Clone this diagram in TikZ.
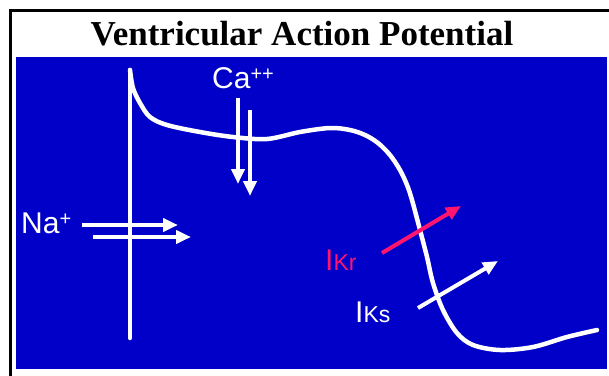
\documentclass[tikz,border=0pt]{standalone}
\usepackage{fontspec}
\setmainfont{Liberation Serif}
\newfontfamily\lblfont{Liberation Sans}
\usetikzlibrary{arrows.meta}
\definecolor{bgblue}{RGB}{0,0,200}
\definecolor{krpink}{RGB}{255,20,110}
\tikzset{
  lbl/.style={inner sep=0pt, anchor=base west, text=white, font=\lblfont\fontsize{30}{30}\selectfont},
  ionarrow/.style={line width=4pt, white, -{Triangle[length=15pt,width=13pt]}},
  apcurve/.style={line width=4.5pt, white, line cap=round, line join=round}
}
\begin{document}
\begin{tikzpicture}[x=1pt,y=-1pt]
\useasboundingbox (0,0) rectangle (609,375);
\clip (0,0) rectangle (609,375);
\fill[white] (0,0) rectangle (609,375);
\draw[line width=2.6pt, black] (10.5,10.5) rectangle (650,420);
\fill[bgblue] (16,57) rectangle (607,369);
\node[inner sep=0pt, anchor=base, font=\bfseries\fontsize{35}{40}\selectfont] (title) at (302,45) {Ventricular Action Potential};
% action potential curve
\draw[apcurve] (130,338) -- (130,70);
\draw[apcurve] plot[smooth, tension=0.55] coordinates {
 (130,70) (133,88) (140,103) (150,117) (167,125) (200,132) (233,137) (267,139)
 (300,132) (330,128) (350,130) (365,135) (378,143) (390,155) (400,170) (407,185)
 (412,200) (420,230) (427,257) (433,283) (443,310) (457,333) (473,345) (500,350)
 (533,347) (567,337) (597,330)};
% labels
\node[lbl] (ca) at (212,88) {Ca\raisebox{8pt}{\fontsize{20}{20}\selectfont ++}};
\node[lbl] (na) at (21,233) {Na\raisebox{8pt}{\fontsize{20}{20}\selectfont +}};
\node[lbl, text=krpink] (ikr) at (325,270) {I\fontsize{23}{23}\selectfont Kr};
\node[lbl] (iks) at (355,322) {I\fontsize{23}{23}\selectfont Ks};
% arrow end points
\coordinate (ca1s) at (238,98);  \coordinate (ca1e) at (238,184);
\coordinate (ca2s) at (250,110); \coordinate (ca2e) at (250,196);
\coordinate (na1s) at (82,225);  \coordinate (na1e) at (178,225);
\coordinate (na2s) at (93,237);  \coordinate (na2e) at (191,237);
\coordinate (krs) at (382,253);  \coordinate (kre) at (461,206);
\coordinate (kss) at (418,308);  \coordinate (kse) at (498,261);
\draw[ionarrow] (ca1s) -- (ca1e);
\draw[ionarrow] (ca2s) -- (ca2e);
\draw[ionarrow] (na1s) -- (na1e);
\draw[ionarrow] (na2s) -- (na2e);
\draw[ionarrow, krpink] (krs) -- (kre);
\draw[ionarrow] (kss) -- (kse);
\end{tikzpicture}
\end{document}
